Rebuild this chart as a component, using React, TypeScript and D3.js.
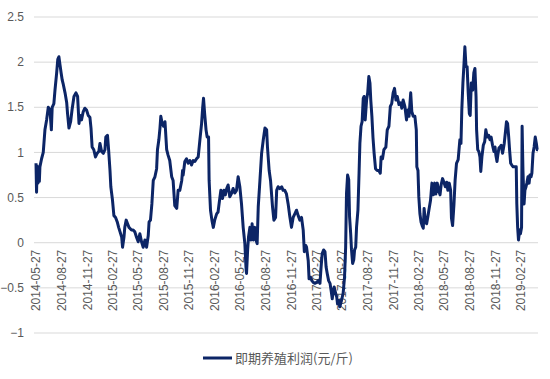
import React from "react";
import * as d3 from "d3";

const dates: string[] = [
"2014-05-27","2014-05-29","2014-05-31","2014-06-03","2014-06-05","2014-06-08","2014-06-10","2014-06-16","2014-06-22","2014-06-28",
"2014-07-04","2014-07-10","2014-07-16","2014-07-21","2014-07-24","2014-07-30","2014-08-03","2014-08-09","2014-08-13","2014-08-17",
"2014-08-21","2014-08-25","2014-08-29","2014-09-02","2014-09-08","2014-09-14","2014-09-17","2014-09-22","2014-09-28","2014-10-03",
"2014-10-10","2014-10-17","2014-10-23","2014-10-28","2014-11-01","2014-11-06","2014-11-12","2014-11-18","2014-11-24","2014-11-30",
"2014-12-06","2014-12-10","2014-12-14","2014-12-20","2014-12-26","2015-01-01","2015-01-07","2015-01-11","2015-01-17","2015-01-23",
"2015-01-29","2015-02-01","2015-02-07","2015-02-11","2015-02-16","2015-02-19","2015-02-25","2015-03-02","2015-03-08","2015-03-14",
"2015-03-19","2015-03-24","2015-03-30","2015-04-02","2015-04-07","2015-04-10","2015-04-15","2015-04-20","2015-04-25","2015-04-28",
"2015-05-04","2015-05-10","2015-05-16","2015-05-22","2015-05-28","2015-06-03","2015-06-09","2015-06-15","2015-06-21","2015-06-27",
"2015-07-03","2015-07-06","2015-07-11","2015-07-16","2015-07-21","2015-07-27","2015-08-02","2015-08-05","2015-08-10","2015-08-14",
"2015-08-17","2015-08-22","2015-08-27","2015-09-01","2015-09-07","2015-09-12","2015-09-18","2015-09-25","2015-09-30","2015-10-06",
"2015-10-13","2015-10-18","2015-10-24","2015-10-31","2015-11-03","2015-11-05","2015-11-11","2015-11-17","2015-11-23","2015-11-29",
"2015-12-05","2015-12-11","2015-12-17","2015-12-23","2015-12-29","2016-01-04","2016-01-10","2016-01-14","2016-01-17","2016-01-21",
"2016-01-26","2016-01-30","2016-02-04","2016-02-06","2016-02-11","2016-02-16","2016-02-21","2016-02-26","2016-03-04","2016-03-09",
"2016-03-16","2016-03-19","2016-03-25","2016-03-30","2016-04-04","2016-04-09","2016-04-14","2016-04-20","2016-04-27","2016-05-02",
"2016-05-08","2016-05-14","2016-05-20","2016-05-26","2016-06-01","2016-06-07","2016-06-13","2016-06-17","2016-06-19","2016-06-23",
"2016-06-26","2016-07-01","2016-07-05","2016-07-09","2016-07-13","2016-07-19","2016-07-23","2016-07-27","2016-07-31","2016-08-06",
"2016-08-12","2016-08-18","2016-08-24","2016-08-30","2016-09-02","2016-09-08","2016-09-13","2016-09-20","2016-09-25","2016-10-01",
"2016-10-05","2016-10-10","2016-10-16","2016-10-23","2016-10-28","2016-11-03","2016-11-09","2016-11-15","2016-11-21","2016-11-27",
"2016-12-03","2016-12-09","2016-12-15","2016-12-21","2016-12-27","2017-01-02","2017-01-08","2017-01-12","2017-01-17","2017-01-20",
"2017-01-26","2017-01-29","2017-02-03","2017-02-08","2017-02-13","2017-02-19","2017-02-25","2017-03-03","2017-03-09","2017-03-13",
"2017-03-17","2017-03-22","2017-03-27","2017-03-31","2017-04-04","2017-04-09","2017-04-14","2017-04-18","2017-04-22","2017-04-26",
"2017-04-29","2017-05-04","2017-05-08","2017-05-11","2017-05-16","2017-05-19","2017-05-25","2017-05-31","2017-06-05","2017-06-09",
"2017-06-12","2017-06-16","2017-06-20","2017-06-23","2017-06-27","2017-06-30","2017-07-04","2017-07-08","2017-07-11","2017-07-15",
"2017-07-18","2017-07-23","2017-07-27","2017-07-30","2017-08-03","2017-08-07","2017-08-11","2017-08-14","2017-08-18","2017-08-23",
"2017-08-27","2017-08-31","2017-09-04","2017-09-07","2017-09-11","2017-09-15","2017-09-19","2017-09-24","2017-09-30","2017-10-06",
"2017-10-11","2017-10-14","2017-10-19","2017-10-24","2017-10-31","2017-11-05","2017-11-11","2017-11-16","2017-11-21","2017-11-26",
"2017-12-01","2017-12-06","2017-12-11","2017-12-17","2017-12-23","2017-12-27","2018-01-01","2018-01-07","2018-01-13","2018-01-17",
"2018-01-22","2018-01-28","2018-02-01","2018-02-06","2018-02-12","2018-02-17","2018-02-19","2018-02-23","2018-02-26","2018-03-02",
"2018-03-06","2018-03-10","2018-03-14","2018-03-17","2018-03-21","2018-03-26","2018-03-30","2018-04-03","2018-04-09","2018-04-14",
"2018-04-19","2018-04-24","2018-04-28","2018-05-03","2018-05-08","2018-05-13","2018-05-17","2018-05-22","2018-05-27","2018-06-01",
"2018-06-06","2018-06-10","2018-06-15","2018-06-20","2018-06-23","2018-06-27","2018-07-02","2018-07-06","2018-07-11","2018-07-17",
"2018-07-23","2018-07-27","2018-07-30","2018-08-03","2018-08-07","2018-08-10","2018-08-14","2018-08-18","2018-08-22","2018-08-26",
"2018-08-29","2018-09-02","2018-09-07","2018-09-11","2018-09-15","2018-09-19","2018-09-21","2018-09-25","2018-09-29","2018-10-03",
"2018-10-06","2018-10-10","2018-10-15","2018-10-20","2018-10-24","2018-10-29","2018-11-03","2018-11-08","2018-11-12","2018-11-17",
"2018-11-22","2018-11-26","2018-11-29","2018-12-03","2018-12-06","2018-12-10","2018-12-14","2018-12-18","2018-12-23","2018-12-29",
"2019-01-03","2019-01-06","2019-01-10","2019-01-14","2019-01-17","2019-01-21","2019-01-25","2019-01-30","2019-02-05","2019-02-10",
"2019-02-12","2019-02-15","2019-02-18","2019-02-22","2019-02-25","2019-03-01","2019-03-03","2019-03-06","2019-03-10","2019-03-13",
"2019-03-17","2019-03-20","2019-03-24","2019-03-28","2019-03-31","2019-04-04","2019-04-07","2019-04-11","2019-04-15","2019-04-19",
"2019-04-23","2019-04-26","2019-04-29"
];

const profit: number[] = [
0.88,0.56,0.85,0.66,0.80,0.68,0.84,0.93,1.00,1.25,
1.36,1.50,1.47,1.25,1.50,1.54,1.69,1.88,2.03,2.06,
1.97,1.88,1.80,1.75,1.66,1.55,1.43,1.27,1.34,1.47,
1.62,1.66,1.62,1.32,1.41,1.36,1.45,1.49,1.47,1.41,
1.39,1.27,1.06,1.03,0.95,0.99,1.01,1.10,1.01,0.99,
1.03,1.17,1.19,1.03,0.80,0.62,0.47,0.30,0.28,0.23,
0.17,0.12,0.06,-0.05,0.06,0.17,0.25,0.21,0.17,0.16,
0.14,0.14,0.12,0.06,0.01,0.10,0.01,-0.05,0.03,-0.05,
0.08,0.23,0.25,0.43,0.69,0.73,0.82,1.03,1.14,1.27,
1.40,1.32,1.29,1.34,1.03,0.97,0.91,0.73,0.69,0.41,
0.38,0.58,0.58,0.69,0.80,0.75,0.90,0.93,0.88,0.91,
0.86,0.91,0.90,0.93,0.95,1.14,1.32,1.50,1.60,1.43,
1.25,1.17,1.17,0.69,0.36,0.25,0.17,0.25,0.32,0.34,
0.51,0.58,0.49,0.58,0.53,0.60,0.64,0.51,0.55,0.60,
0.55,0.58,0.73,0.62,0.43,0.17,-0.01,-0.27,-0.34,-0.08,
0.06,0.17,0.03,0.21,0.03,0.17,0.03,-0.01,0.40,0.69,
0.99,1.14,1.27,1.25,1.06,0.80,0.69,0.40,0.25,0.28,
0.58,0.62,0.60,0.62,0.58,0.58,0.54,0.43,0.29,0.17,
0.28,0.32,0.36,0.30,0.25,0.28,0.14,-0.10,-0.03,-0.05,
-0.20,-0.40,-0.38,-0.42,-0.44,-0.45,-0.44,-0.42,-0.45,-0.27,
-0.12,-0.08,-0.10,-0.27,-0.34,-0.42,-0.45,-0.53,-0.62,-0.53,
-0.49,-0.56,-0.60,-0.68,-0.64,-0.71,-0.64,-0.56,-0.38,-0.05,
0.54,0.75,0.70,0.29,0.10,-0.08,-0.23,-0.19,-0.08,-0.05,
0.17,0.36,0.77,1.10,1.29,1.34,1.60,1.62,1.36,1.58,
1.66,1.84,1.77,1.58,1.40,1.16,0.99,0.82,0.80,0.80,
0.77,0.95,0.93,1.03,1.06,1.25,1.29,1.51,1.54,1.66,
1.71,1.58,1.62,1.53,1.55,1.49,1.58,1.51,1.36,1.47,
1.40,1.66,1.45,1.40,1.40,1.25,0.84,0.80,0.51,0.32,
0.23,0.19,0.16,0.38,0.25,0.21,0.28,0.36,0.47,0.66,
0.53,0.66,0.54,0.66,0.58,0.53,0.64,0.71,0.67,0.62,
0.67,0.58,0.66,0.58,0.27,0.19,0.43,0.69,0.88,0.92,
1.14,1.10,1.47,1.77,1.99,2.17,1.95,1.95,1.66,1.43,
1.41,1.77,1.69,1.88,1.93,1.62,1.25,1.03,1.01,0.95,
0.79,0.95,1.08,1.12,1.25,1.17,1.19,1.14,1.17,1.08,
1.01,1.06,0.97,0.90,0.97,1.05,1.06,1.08,0.99,1.10,
1.25,1.34,1.32,1.17,1.03,0.88,0.86,0.84,0.84,0.84,
0.43,0.17,0.03,0.14,0.10,0.17,1.29,0.80,0.43,0.58,
0.62,0.66,0.73,0.66,0.75,0.73,0.77,0.99,1.06,1.17,
1.10,1.03,1.03
];

const xTickLabels: string[] = [
"2014-05-27","2014-08-27","2014-11-27","2015-02-27","2015-05-27","2015-08-27","2015-11-27",
"2016-02-27","2016-05-27","2016-08-27","2016-11-27","2017-02-27","2017-05-27","2017-08-27",
"2017-11-27","2018-02-27","2018-05-27","2018-08-27","2018-11-27","2019-02-27"
];

const yTicks: number[] = [-1, -0.5, 0, 0.5, 1, 1.5, 2, 2.5];
const seriesName = "即期养殖利润(元/斤)";

const W = 550;
const H = 379;
const plotLeft = 34;
const plotRight = 538;
const lineColor = "#0c2566";
const gridColor = "#d9d9d9";
const textColor = "#595959";
const font = "'Liberation Sans', Arial, sans-serif";

export default function App() {
  const parse = d3.timeParse("%Y-%m-%d");
  const x = d3
    .scaleTime()
    .domain([parse("2014-05-27") as Date, parse("2019-02-27") as Date])
    .range([36, 521]);
  const y = d3.scaleLinear().domain([-1, 2.5]).range([333, 17]);

  const pts = dates.map((d, i) => ({ d: parse(d) as Date, v: profit[i] }));
  const line = d3
    .line<{ d: Date; v: number }>()
    .x((p) => x(p.d))
    .y((p) => y(p.v));

  const fmt = d3.format("");
  return (
    <svg
      width={W}
      height={H}
      style={{ position: "absolute", left: 0, top: 0, background: "#fff" }}
      fontFamily={font}
    >
      {yTicks.map((t) => (
        <g key={t}>
          <line x1={plotLeft} x2={plotRight} y1={y(t)} y2={y(t)} stroke={gridColor} strokeWidth={1} />
          <text x={24} y={y(t)} dy="0.35em" textAnchor="end" fontSize={12} fill={textColor}>
            {fmt(t)}
          </text>
        </g>
      ))}
      {xTickLabels.map((s) => {
        const tx = x(parse(s) as Date);
        const ty = y(0) + 7;
        return (
          <text
            key={s}
            transform={`translate(${tx},${ty}) rotate(-90)`}
            dy="0.35em"
            textAnchor="end"
            fontSize={12}
            fill={textColor}
          >
            {s}
          </text>
        );
      })}
      <path d={line(pts) || ""} fill="none" stroke={lineColor} strokeWidth={3} strokeLinejoin="round" />
      <g>
        <line x1={203} x2={232} y1={358} y2={358} stroke={lineColor} strokeWidth={3} />
        <text x={235} y={358} dy="0.35em" fontSize={13} fill={textColor} fontFamily="'Noto Sans CJK SC', sans-serif">
          {seriesName}
        </text>
      </g>
    </svg>
  );
}
